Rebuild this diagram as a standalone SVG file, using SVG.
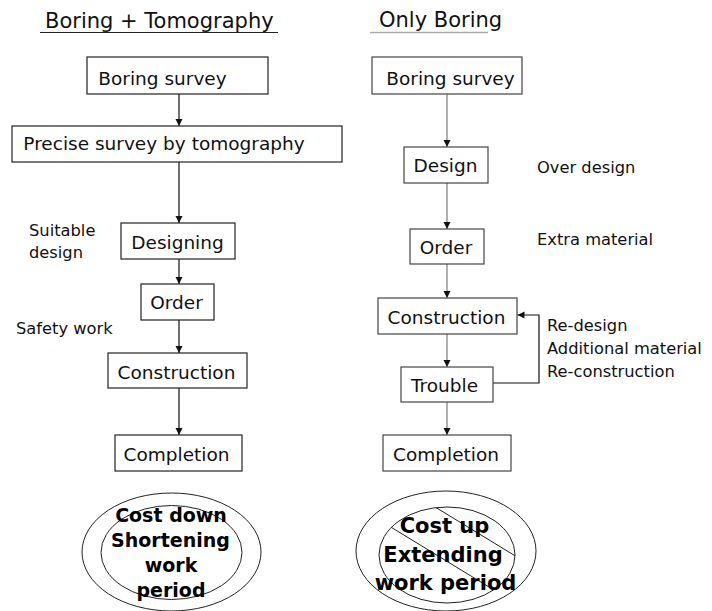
<svg xmlns="http://www.w3.org/2000/svg" width="712" height="611" viewBox="0 0 712 611">
<defs>
<style>
.box{fill:#fff;stroke:#222;stroke-width:1.2}
.rbox{fill:#fff;stroke:#444;stroke-width:1.2}
.t{font-family:"DejaVu Sans",sans-serif;font-size:18.5px;fill:#111;text-anchor:middle}
.s{font-family:"DejaVu Sans",sans-serif;font-size:16.3px;fill:#111}
.h{font-family:"DejaVu Sans",sans-serif;font-size:21px;fill:#111}
.b{font-family:"DejaVu Sans",sans-serif;font-weight:bold;fill:#000;text-anchor:middle}
.la{fill:none;stroke:#111;stroke-width:1.2;marker-end:url(#ah)}
.ra{fill:none;stroke:#7a7a7a;stroke-width:1.2;marker-end:url(#ah)}
.el{fill:none;stroke:#222;stroke-width:1}
</style>
<marker id="ah" markerUnits="userSpaceOnUse" markerWidth="8" markerHeight="8" refX="7" refY="3.5" orient="auto">
<path d="M0,0 L7,3.5 L0,7 z" fill="#111"/>
</marker>
<clipPath id="innerR"><ellipse cx="447" cy="555" rx="68" ry="48"/></clipPath>
</defs>

<g id="titles">
<text class="h" x="45" y="28">Boring + Tomography</text>
<line x1="40" y1="32.5" x2="278" y2="32.5" stroke="#222" stroke-width="1"/>
<text class="h" x="379" y="27">Only Boring</text>
<line x1="370" y1="32.5" x2="488" y2="32.5" stroke="#aaa" stroke-width="1.5"/>
</g>

<g id="connectors">
<line class="la" x1="179" y1="94" x2="179" y2="126"/>
<line class="la" x1="179" y1="162" x2="179" y2="223"/>
<line class="la" x1="179" y1="259" x2="179" y2="284"/>
<line class="la" x1="179" y1="320" x2="179" y2="353"/>
<line class="la" x1="179" y1="388" x2="179" y2="435"/>
<line class="ra" x1="447" y1="94" x2="447" y2="147"/>
<line class="ra" x1="447" y1="183" x2="447" y2="229"/>
<line class="ra" x1="447" y1="264" x2="447" y2="298"/>
<line class="ra" x1="447" y1="334" x2="447" y2="367"/>
<line class="ra" x1="447" y1="402" x2="447" y2="435"/>
<path class="la" d="M493,383 H539 V315 H517.5"/>
</g>

<g id="left-boring"><rect class="box" x="87" y="57" width="181" height="37"/><text class="t" x="162.5" y="85">Boring survey</text></g>
<g id="left-precise"><rect class="box" x="12" y="126" width="330" height="36"/><text class="t" x="164" y="150">Precise survey by tomography</text></g>
<g id="left-designing"><rect class="box" x="121" y="223" width="114" height="36"/><text class="t" x="177.5" y="249">Designing</text></g>
<g id="left-order"><rect class="box" x="141" y="284" width="73" height="36"/><text class="t" x="176.5" y="309">Order</text></g>
<g id="left-construction"><rect class="box" x="108" y="353" width="139" height="35"/><text class="t" x="176.5" y="379">Construction</text></g>
<g id="left-completion"><rect class="box" x="115" y="435" width="127" height="36"/><text class="t" x="176.5" y="461">Completion</text></g>

<g id="right-boring"><rect class="rbox" x="372" y="57" width="150" height="37"/><text class="t" x="450.5" y="85">Boring survey</text></g>
<g id="right-design"><rect class="rbox" x="404" y="147" width="84" height="36"/><text class="t" x="445.5" y="172">Design</text></g>
<g id="right-order"><rect class="rbox" x="410" y="229" width="74" height="35"/><text class="t" x="446" y="254">Order</text></g>
<g id="right-construction"><rect class="rbox" x="378" y="298" width="139" height="36"/><text class="t" x="446.5" y="324">Construction</text></g>
<g id="right-trouble"><rect class="rbox" x="401" y="367" width="92" height="35"/><text class="t" x="444.5" y="392">Trouble</text></g>
<g id="right-completion"><rect class="rbox" x="383" y="435" width="128" height="36"/><text class="t" x="446" y="461">Completion</text></g>

<g id="labels">
<text class="s" x="29" y="236">Suitable</text>
<text class="s" x="29" y="258">design</text>
<text class="s" x="16" y="334">Safety work</text>
<text class="s" x="537" y="173">Over design</text>
<text class="s" x="537" y="245">Extra material</text>
<text class="s" x="547" y="331">Re-design</text>
<text class="s" x="547" y="354">Additional material</text>
<text class="s" x="547" y="377">Re-construction</text>
</g>

<g id="result-left">
<ellipse class="el" cx="171.5" cy="552" rx="89.5" ry="59"/>
<ellipse class="el" cx="171.5" cy="552.5" rx="70.5" ry="47"/>
<text class="b" style="font-size:19px" x="171" y="522">Cost down</text>
<text class="b" style="font-size:19px" x="170.5" y="547">Shortening</text>
<text class="b" style="font-size:19px" x="171" y="572">work</text>
<text class="b" style="font-size:19px" x="171" y="597">period</text>
</g>

<g id="result-right">
<ellipse class="el" cx="446" cy="551" rx="90" ry="60"/>
<ellipse class="el" cx="447" cy="555" rx="68" ry="48"/>
<g clip-path="url(#innerR)">
<line class="el" x1="370" y1="514.4" x2="530" y2="612"/>
<line class="el" x1="420" y1="497.8" x2="540" y2="571"/>
</g>
<text class="b" style="font-size:21px" x="444.5" y="533">Cost up</text>
<text class="b" style="font-size:21px" x="443" y="561.5">Extending</text>
<text class="b" style="font-size:21px" x="445.5" y="590">work period</text>
</g>
</svg>
